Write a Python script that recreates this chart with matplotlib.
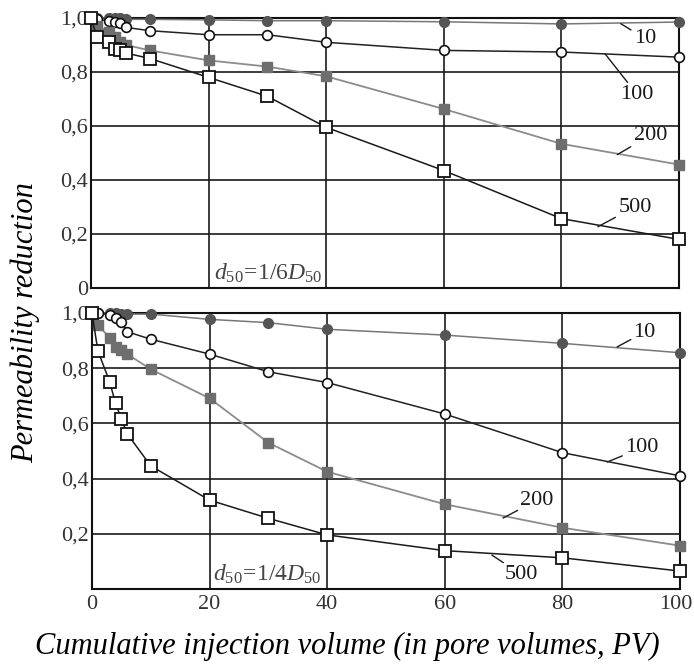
import numpy as np
import matplotlib
matplotlib.use('Agg')
import matplotlib.pyplot as plt
import matplotlib.transforms as mtransforms

plt.rcParams['font.family'] = ['Liberation Serif', 'DejaVu Serif']
plt.rcParams['mathtext.fontset'] = 'custom'
plt.rcParams['mathtext.rm'] = 'Liberation Serif'
plt.rcParams['mathtext.it'] = 'Liberation Serif:italic'

# injection volume (PV)
pv = [0, 1, 3, 4, 5, 6, 10, 20, 30, 40, 60, 80, 100]

# d50 = 1/6 D50
top_10 = [1.0, 1.0, 1.0, 1.0, 1.0, 0.995, 0.995, 0.993, 0.99, 0.99, 0.986, 0.978, 0.985]
top_100 = [1.0, 0.995, 0.99, 0.985, 0.98, 0.965, 0.953, 0.938, 0.938, 0.91, 0.88, 0.874, 0.855]
top_200 = [1.0, 0.97, 0.95, 0.93, 0.91, 0.90, 0.88, 0.843, 0.82, 0.784, 0.663, 0.534, 0.457]
top_500 = [1.0, 0.93, 0.91, 0.885, 0.88, 0.87, 0.85, 0.78, 0.71, 0.595, 0.435, 0.257, 0.18]

# d50 = 1/4 D50
bot_10 = [1.0, 1.0, 1.0, 1.0, 0.998, 0.996, 0.996, 0.977, 0.965, 0.941, 0.92, 0.89, 0.856]
bot_100 = [1.0, 1.0, 0.993, 0.981, 0.969, 0.932, 0.905, 0.851, 0.787, 0.748, 0.634, 0.494, 0.41]
bot_200 = [1.0, 0.957, 0.91, 0.878, 0.866, 0.851, 0.796, 0.691, 0.53, 0.425, 0.307, 0.222, 0.157]
bot_500 = [1.0, 0.863, 0.751, 0.673, 0.616, 0.562, 0.446, 0.322, 0.256, 0.196, 0.139, 0.113, 0.065]

series_names = ['10', '100', '200', '500']
yticks = [0, 0.2, 0.4, 0.6, 0.8, 1.0]
ytick_labels = ['0', '0,2', '0,4', '0,6', '0,8', '1,0']
xticks = [0, 20, 40, 60, 80, 100]

styles = {
    '10': dict(marker='o', ms=7, mfc='#555555', mec='#555555', color='#777777', lw=1.1),
    '100': dict(marker='o', ms=7, mfc='white', mec='#111111', mew=1.2, color='#222222', lw=1.1),
    '200': dict(marker='s', ms=7, mfc='#6e6e6e', mec='#6e6e6e', color='#8c8c8c', lw=1.3),
    '500': dict(marker='s', ms=8, mfc='white', mec='#111111', mew=1.3, color='#1a1a1a', lw=1.1),
}

fig = plt.figure(figsize=(6.94, 6.69), dpi=100)
ax1 = fig.add_axes([91/694, 1-288/669, 588/694, 270/669])
ax2 = fig.add_axes([92/694, 1-589/669, 588/694, 276/669])


def setup(ax, show_x, ylabels):
    ax.set_xlim(0, 100)
    ax.set_ylim(0, 1.0)
    ax.set_xticks(xticks)
    ax.set_yticks(yticks)
    ax.set_yticklabels(ylabels)
    if show_x:
        ax.set_xticklabels([str(v) for v in xticks])
    else:
        ax.set_xticklabels([])
    ax.tick_params(length=0, labelsize=16, labelcolor='#333333', pad=2)
    ax.tick_params(axis='x', pad=4)
    ax.grid(True, color='#1a1a1a', lw=1.2)
    ax.set_axisbelow(True)
    for s in ax.spines.values():
        s.set_color('#111111')
        s.set_linewidth(1.5)


setup(ax1, False, ytick_labels)
setup(ax2, True, [''] + ytick_labels[1:])

# nudge the last x label so it stays inside the figure
last = ax2.get_xticklabels()[-1]
last.set_transform(last.get_transform() +
                   mtransforms.ScaledTranslation(-4/100, 0, fig.dpi_scale_trans))

for ax, data in [(ax1, [top_10, top_100, top_200, top_500]),
                 (ax2, [bot_10, bot_100, bot_200, bot_500])]:
    for name, vals in zip(series_names, data):
        ax.plot(pv, vals, clip_on=False, zorder=3, **styles[name])

# curve labels with leader lines
lab_kw = dict(fontsize=16, color='#1a1a1a', ha='center', va='center',
              arrowprops=dict(arrowstyle='-', color='#1a1a1a', lw=1, shrinkA=0, shrinkB=0))
ax1.annotate('10', xy=(90.1, 0.979), xytext=(94.2, 0.924), **lab_kw)
ax1.annotate('100', xy=(87.4, 0.868), xytext=(92.9, 0.716), **lab_kw)
ax1.annotate('200', xy=(89.5, 0.494), xytext=(95.1, 0.565), **lab_kw)
ax1.annotate('500', xy=(86.2, 0.227), xytext=(92.5, 0.30), **lab_kw)

ax2.annotate('10', xy=(89.3, 0.877), xytext=(94.0, 0.931), **lab_kw)
ax2.annotate('100', xy=(87.6, 0.46), xytext=(93.5, 0.511), **lab_kw)
ax2.annotate('200', xy=(69.9, 0.257), xytext=(75.7, 0.322), **lab_kw)
ax2.annotate('500', xy=(68.0, 0.123), xytext=(73.1, 0.051), **lab_kw)

ax1.text(21.0, 0.012, r'$d_{50}\!=\!1/6D_{50}$', fontsize=17, color='#444444',
         ha='left', va='bottom')
ax2.text(20.6, 0.012, r'$d_{50}\!=\!1/4D_{50}$', fontsize=17, color='#444444',
         ha='left', va='bottom')

fig.text(25/694, 1-323/669, 'Permeability reduction', rotation=90,
         fontsize=22, style='italic', ha='center', va='center')
fig.text(347/694, 1-646/669, 'Cumulative injection volume (in pore volumes, PV)',
         fontsize=22, style='italic', ha='center', va='center')

fig.savefig('out.png', dpi=100)
